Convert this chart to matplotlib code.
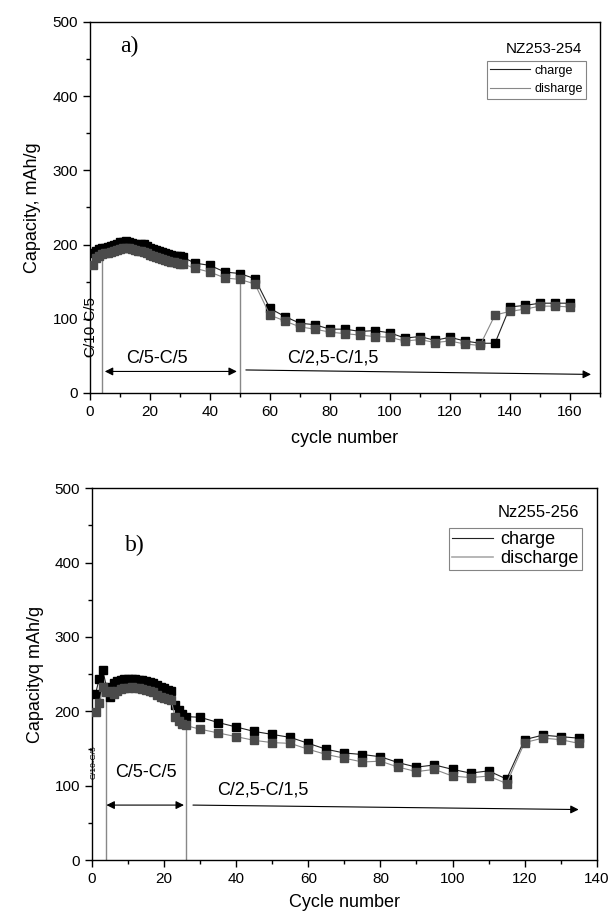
import matplotlib
matplotlib.use("Agg")
import matplotlib.pyplot as plt
from matplotlib.ticker import MultipleLocator

plt.rcParams['font.family'] = ['Liberation Sans', 'DejaVu Sans']

# ---------------- data: panel a ----------------
a_cycles = list(range(1, 32)) + [35, 40, 45, 50, 55, 60, 65, 70, 75, 80, 85, 90, 95, 100,
                                  105, 110, 115, 120, 125, 130, 135, 140, 145, 150, 155, 160]
a_charge = [188, 192, 194, 195, 196, 197, 198, 200, 201, 203, 204, 205, 204, 202, 201, 200,
            201, 201, 198, 196, 194, 193, 191, 190, 188, 187, 186, 185, 184, 184, 183,
            175, 172, 163, 161, 154, 114, 103, 94, 92, 86, 86, 83, 84, 81,
            74, 76, 71, 75, 70, 67, 67, 116, 118, 121, 121, 121]
a_discharge = [172, 182, 185, 187, 188, 189, 190, 192, 193, 194, 195, 196, 195, 194, 193, 192,
               191, 190, 188, 186, 185, 183, 182, 180, 179, 178, 177, 176, 175, 174, 174,
               168, 163, 155, 153, 147, 105, 97, 89, 86, 82, 80, 78, 76, 75,
               70, 72, 68, 70, 66, 64, 105, 110, 113, 117, 117, 116]

# ---------------- data: panel b ----------------
b_cycles = list(range(1, 27)) + [30, 35, 40, 45, 50, 55, 60, 65, 70, 75, 80, 85, 90, 95,
                                  100, 105, 110, 115, 120, 125, 130, 135]
b_charge = [224, 244, 255, 233, 219, 238, 241, 242, 243, 244, 244, 243, 242, 242, 241, 240,
            238, 236, 233, 231, 229, 228, 208, 202, 197, 193,
            192, 185, 179, 173, 169, 165, 157, 149, 144, 142, 139, 131, 125, 128,
            122, 117, 120, 109, 162, 168, 166, 164]
b_discharge = [199, 211, 233, 226, 228, 224, 228, 230, 231, 232, 233, 232, 231, 230, 229, 228,
               226, 222, 219, 218, 216, 215, 192, 187, 183, 181,
               176, 171, 166, 161, 158, 157, 149, 142, 137, 132, 133, 125, 119, 122,
               113, 111, 113, 103, 158, 164, 162, 157]

fig = plt.figure(figsize=(6.11, 9.16), dpi=100)
ax1 = fig.add_axes([0.147, 0.571, 0.835, 0.405])
ax2 = fig.add_axes([0.1506, 0.061, 0.826, 0.406])

CH_LINE = '#222222'
DI_LINE = '#888888'
CH_MK = '#000000'
DI_MK = '#4a4a4a'


def draw(ax, x, ch, di, ms):
    ax.plot(x, ch, color=CH_LINE, lw=0.8, marker='s', ms=ms, mfc=CH_MK, mec=CH_MK, zorder=3)
    ax.plot(x, di, color=DI_LINE, lw=0.8, marker='s', ms=ms, mfc=DI_MK, mec=DI_MK, zorder=4)


def style(ax, xmax, xmajor):
    ax.set_ylim(0, 500)
    ax.set_xlim(0, xmax)
    ax.xaxis.set_major_locator(MultipleLocator(xmajor))
    ax.xaxis.set_minor_locator(MultipleLocator(xmajor / 2))
    ax.yaxis.set_major_locator(MultipleLocator(100))
    ax.yaxis.set_minor_locator(MultipleLocator(50))
    ax.tick_params(which='major', direction='out', length=5, width=1, labelsize=11)
    ax.tick_params(which='minor', direction='out', length=3, width=1)
    for s in ax.spines.values():
        s.set_linewidth(1.0)


def arrow(ax, x0, y0, x1, y1, both=False):
    style_ = '<|-|>' if both else '-|>'
    ax.annotate('', xy=(x1, y1), xytext=(x0, y0),
                arrowprops=dict(arrowstyle=style_, color='black', lw=0.8,
                                mutation_scale=12, shrinkA=0, shrinkB=0))


# ---- panel a ----
draw(ax1, a_cycles, a_charge, a_discharge, 5.8)
style(ax1, 170, 20)
ax1.plot([4, 4], [0, 185], color='#888888', lw=1, zorder=2)
ax1.plot([50, 50], [0, 153], color='#888888', lw=1, zorder=2)
arrow(ax1, 5, 29, 49, 29, both=True)
arrow(ax1, 52, 31, 167, 25)
ax1.text(22.5, 47, 'C/5-C/5', fontsize=13, ha='center', va='center')
ax1.text(81, 47, 'C/2,5-C/1,5', fontsize=13, ha='center', va='center')
ax1.text(0.0, 89, 'C/10-C/5', fontsize=11, rotation=90, ha='center', va='center')
ax1.text(13, 467, 'a)', fontsize=17, family=['Liberation Serif'], ha='center', va='center')
ax1.text(0.965, 0.928, 'NZ253-254', transform=ax1.transAxes, fontsize=11, ha='right', va='center')
ax1.set_xlabel('cycle number', fontsize=13, labelpad=8)
ax1.set_ylabel('Capacity, mAh/g', fontsize=13, labelpad=8)
l1, = ax1.plot([], [], color=CH_LINE, lw=0.8, label='charge')
l2, = ax1.plot([], [], color=DI_LINE, lw=0.8, label='disharge')
leg1 = ax1.legend(handles=[l1, l2], loc='upper right', bbox_to_anchor=(0.973, 0.895),
                  fontsize=9, frameon=True, fancybox=False, edgecolor='#666666',
                  handlelength=3.2, handletextpad=0.3, borderpad=0.3, labelspacing=0.5,
                  borderaxespad=0)
leg1.get_frame().set_linewidth(0.8)

# ---- panel b ----
draw(ax2, b_cycles, b_charge, b_discharge, 6)
style(ax2, 140, 20)
ax2.plot([4, 4], [0, 226], color='#888888', lw=1, zorder=2)
ax2.plot([26, 26], [0, 181], color='#888888', lw=1, zorder=2)
arrow(ax2, 4, 74, 25.5, 74, both=True)
arrow(ax2, 28, 74, 135, 68)
ax2.text(15, 118, 'C/5-C/5', fontsize=13, ha='center', va='center')
ax2.text(47.5, 94, 'C/2,5-C/1,5', fontsize=13, ha='center', va='center')
ax2.text(0.6, 132, 'C/10-C/5', fontsize=6, rotation=90, ha='center', va='center')
ax2.text(12, 423, 'b)', fontsize=17, family=['Liberation Serif'], ha='center', va='center')
ax2.text(0.965, 0.935, 'Nz255-256', transform=ax2.transAxes, fontsize=12, ha='right', va='center')
ax2.set_xlabel('Cycle number', fontsize=13, labelpad=6)
ax2.set_ylabel('Capacityq mAh/g', fontsize=13, labelpad=8)
m1, = ax2.plot([], [], color=CH_LINE, lw=0.8, label='charge')
m2, = ax2.plot([], [], color='#aaaaaa', lw=1.2, label='discharge')
leg2 = ax2.legend(handles=[m1, m2], loc='upper right', bbox_to_anchor=(0.97, 0.892),
                  fontsize=13, frameon=True, fancybox=False, edgecolor='#666666',
                  handlelength=2.3, handletextpad=0.4, borderpad=0.15, labelspacing=0.1,
                  borderaxespad=0)
leg2.get_frame().set_linewidth(0.8)

fig.savefig('out.png', dpi=100)
